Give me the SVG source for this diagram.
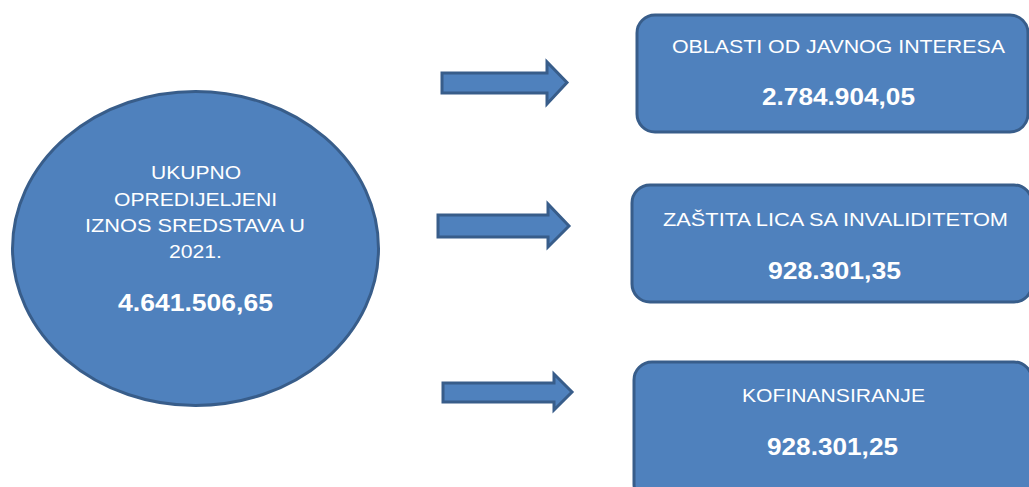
<svg xmlns="http://www.w3.org/2000/svg" width="1029" height="487" viewBox="0 0 1029 487">
<style>
.shape{fill:#4F81BD;stroke:#385D8A;stroke-width:3}
.t{font-family:"Liberation Sans",Arial,sans-serif;fill:#FFFFFF;text-anchor:middle;font-size:19px}
.b{font-family:"Liberation Sans",Arial,sans-serif;fill:#FFFFFF;text-anchor:middle;font-size:24px;font-weight:bold}
</style>
<rect width="1029" height="487" fill="#FFFFFF"/>
<g id="total">
<ellipse class="shape" cx="195.500" cy="248.500" rx="183" ry="157"/>
<text class="t" x="196" y="179" textLength="90" lengthAdjust="spacingAndGlyphs">UKUPNO</text>
<text class="t" x="195.500" y="206" textLength="163" lengthAdjust="spacingAndGlyphs">OPREDIJELJENI</text>
<text class="t" x="195" y="232" textLength="220" lengthAdjust="spacingAndGlyphs">IZNOS SREDSTAVA U</text>
<text class="t" x="195.500" y="258" textLength="53" lengthAdjust="spacingAndGlyphs">2021.</text>
<text class="b" x="195.500" y="311" textLength="155" lengthAdjust="spacingAndGlyphs">4.641.506,65</text>
</g>
<g id="connectors">
<polygon class="shape" points="442,73 547,73 547,62 567,82.500 547,104 547,93 442,93"/>
<polygon class="shape" points="438,215 548,215 548,204 569,226 548,247 548,237 438,237"/>
<polygon class="shape" points="443,383 554,383 554,374 572,392 554,410 554,402 443,402"/>
</g>
<g id="oblasti">
<rect class="shape" x="637" y="15" width="391" height="117" rx="18"/>
<text class="t" x="838.500" y="53" textLength="333" lengthAdjust="spacingAndGlyphs">OBLASTI OD JAVNOG INTERESA</text>
<text class="b" x="838.500" y="105" textLength="153" lengthAdjust="spacingAndGlyphs">2.784.904,05</text>
</g>
<g id="zastita">
<rect class="shape" x="632" y="185" width="400" height="117" rx="18"/>
<text class="t" x="835.500" y="226" textLength="345" lengthAdjust="spacingAndGlyphs">ZAŠTITA LICA SA INVALIDITETOM</text>
<text class="b" x="834.500" y="279" textLength="133" lengthAdjust="spacingAndGlyphs">928.301,35</text>
</g>
<g id="kofinansiranje">
<rect class="shape" x="634" y="362" width="398" height="140" rx="18"/>
<text class="t" x="833.500" y="402" textLength="183" lengthAdjust="spacingAndGlyphs">KOFINANSIRANJE</text>
<text class="b" x="832.500" y="455" textLength="131" lengthAdjust="spacingAndGlyphs">928.301,25</text>
</g>
</svg>
